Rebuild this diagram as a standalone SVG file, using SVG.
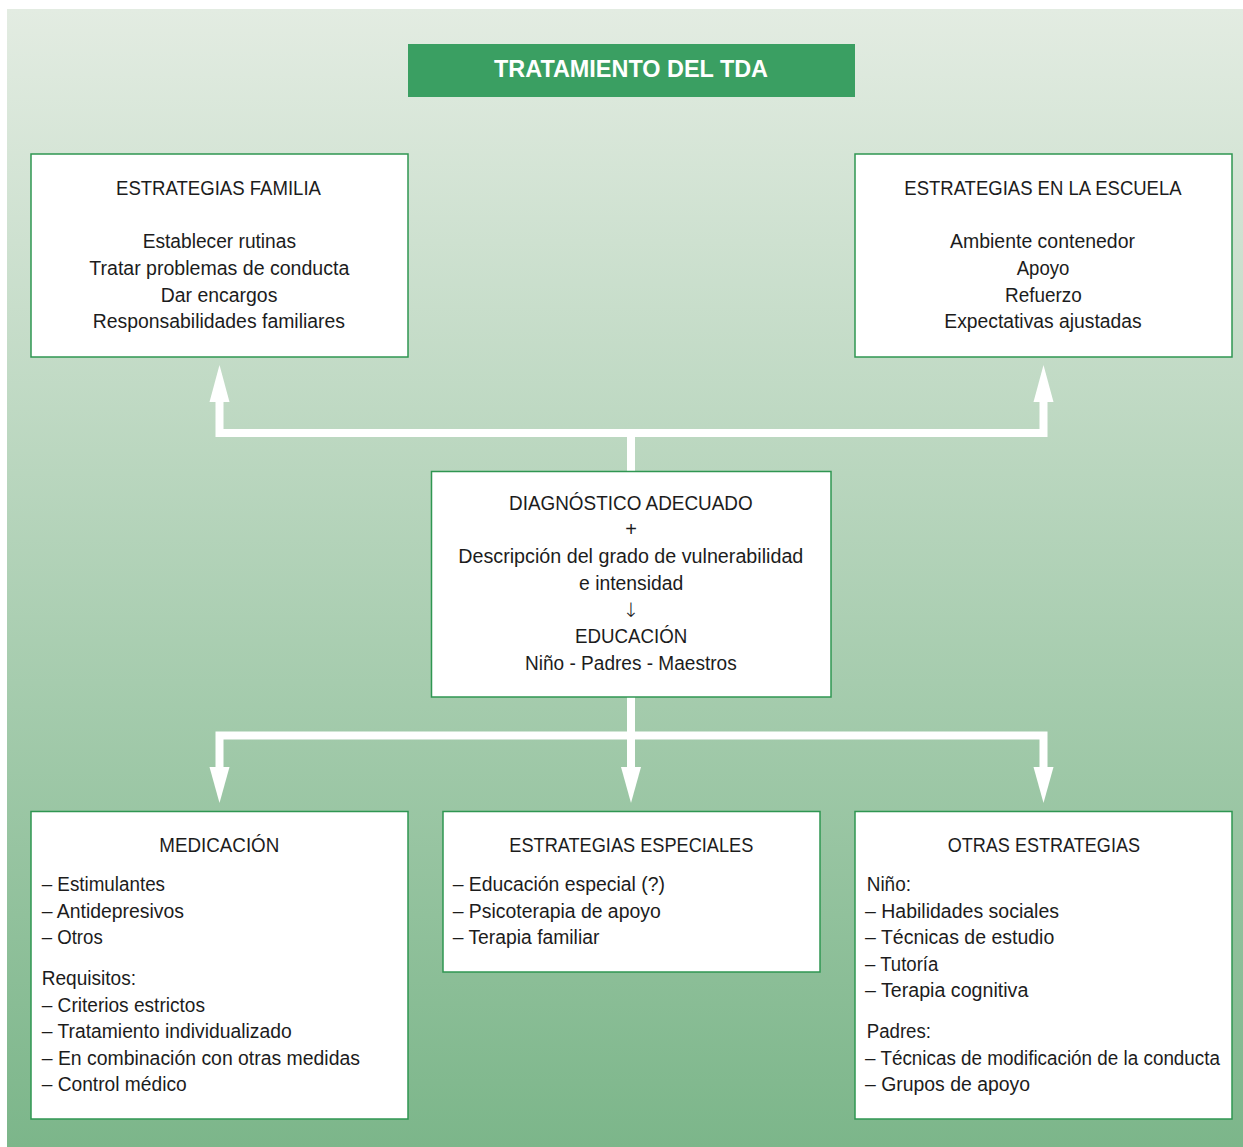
<svg xmlns="http://www.w3.org/2000/svg" width="1243" height="1147" viewBox="0 0 1243 1147">
<defs>
<linearGradient id="bg" x1="0" y1="9" x2="0" y2="1147" gradientUnits="userSpaceOnUse">
<stop offset="0" stop-color="#e3ece2"/>
<stop offset="1" stop-color="#7cb68a"/>
</linearGradient>
<style>
.box{fill:#ffffff;stroke:#2f9652;stroke-width:1.5}
.t{font-family:"Liberation Sans",Arial,sans-serif;font-size:20px;fill:#1c1c1c}
.arr{font-family:"DejaVu Sans","Liberation Sans",sans-serif;font-size:20px;font-weight:200;fill:#1c1c1c}
.conn{fill:none;stroke:#ffffff;stroke-width:8;stroke-linejoin:miter}
.ah{fill:#ffffff}
.title{font-family:"Liberation Sans",Arial,sans-serif;font-size:24px;font-weight:bold;fill:#ffffff}
</style>
</defs>
<rect x="0" y="0" width="1243" height="1147" fill="#ffffff"/>
<rect x="7" y="9" width="1236" height="1138" fill="url(#bg)"/>

<g id="title">
<rect x="408" y="44" width="447" height="53" fill="#3a9f62"/>
<text class="title" x="494" y="77" textLength="274" lengthAdjust="spacingAndGlyphs">TRATAMIENTO DEL TDA</text>
</g>

<g id="connectors">
<path class="conn" d="M631,471 V433"/>
<path class="conn" d="M219.5,400 V433 H1043.5 V400"/>
<polygon class="ah" points="219.5,365 229.5,402 209.5,402"/>
<polygon class="ah" points="1043.5,365 1053.5,402 1033.5,402"/>
<path class="conn" d="M631,697 V769"/>
<path class="conn" d="M219.5,769 V735.5 H1043.5 V769"/>
<polygon class="ah" points="209.5,767 229.5,767 219.5,803"/>
<polygon class="ah" points="621,767 641,767 631,803"/>
<polygon class="ah" points="1033.5,767 1053.5,767 1043.5,803"/>
</g>

<g id="familia">
<rect class="box" x="31" y="154" width="377" height="203"/>
<text class="t" x="116" y="195" textLength="205" lengthAdjust="spacingAndGlyphs">ESTRATEGIAS FAMILIA</text>
<text class="t" x="142.7" y="248" textLength="153.3" lengthAdjust="spacingAndGlyphs">Establecer rutinas</text>
<text class="t" x="89.3" y="275" textLength="260" lengthAdjust="spacingAndGlyphs">Tratar problemas de conducta</text>
<text class="t" x="160.7" y="301.5" textLength="116.7" lengthAdjust="spacingAndGlyphs">Dar encargos</text>
<text class="t" x="92.7" y="328" textLength="252.3" lengthAdjust="spacingAndGlyphs">Responsabilidades familiares</text>
</g>

<g id="escuela">
<rect class="box" x="855" y="154" width="377" height="203"/>
<text class="t" x="904.3" y="195" textLength="277.3" lengthAdjust="spacingAndGlyphs">ESTRATEGIAS EN LA ESCUELA</text>
<text class="t" x="950" y="248" textLength="185" lengthAdjust="spacingAndGlyphs">Ambiente contenedor</text>
<text class="t" x="1016.7" y="275" textLength="52.7" lengthAdjust="spacingAndGlyphs">Apoyo</text>
<text class="t" x="1005" y="301.5" textLength="76.7" lengthAdjust="spacingAndGlyphs">Refuerzo</text>
<text class="t" x="944.3" y="328" textLength="197.3" lengthAdjust="spacingAndGlyphs">Expectativas ajustadas</text>
</g>

<g id="diagnostico">
<rect class="box" x="431.5" y="471.5" width="399.5" height="225.5"/>
<text class="t" x="509" y="509.5" textLength="243.7" lengthAdjust="spacingAndGlyphs">DIAGNÓSTICO ADECUADO</text>
<text class="t" x="631" y="536" text-anchor="middle">+</text>
<text class="t" x="458.3" y="563" textLength="345" lengthAdjust="spacingAndGlyphs">Descripción del grado de vulnerabilidad</text>
<text class="t" x="579" y="589.5" textLength="104.3" lengthAdjust="spacingAndGlyphs">e intensidad</text>
<text class="arr" x="631" y="617" text-anchor="middle">↓</text>
<text class="t" x="575" y="643" textLength="112.3" lengthAdjust="spacingAndGlyphs">EDUCACIÓN</text>
<text class="t" x="525" y="669.5" textLength="211.7" lengthAdjust="spacingAndGlyphs">Niño - Padres - Maestros</text>
</g>

<g id="medicacion">
<rect class="box" x="31" y="811.5" width="377" height="307.5"/>
<text class="t" x="159.3" y="852" textLength="120" lengthAdjust="spacingAndGlyphs">MEDICACIÓN</text>
<text class="t" x="41.7" y="891" textLength="123.3" lengthAdjust="spacingAndGlyphs">– Estimulantes</text>
<text class="t" x="41.7" y="917.5" textLength="142.3" lengthAdjust="spacingAndGlyphs">– Antidepresivos</text>
<text class="t" x="41.7" y="944" textLength="61" lengthAdjust="spacingAndGlyphs">– Otros</text>
<text class="t" x="41.7" y="985" textLength="94.3" lengthAdjust="spacingAndGlyphs">Requisitos:</text>
<text class="t" x="41.7" y="1011.5" textLength="163.3" lengthAdjust="spacingAndGlyphs">– Criterios estrictos</text>
<text class="t" x="41.7" y="1038" textLength="250" lengthAdjust="spacingAndGlyphs">– Tratamiento individualizado</text>
<text class="t" x="41.7" y="1064.5" textLength="318.3" lengthAdjust="spacingAndGlyphs">– En combinación con otras medidas</text>
<text class="t" x="41.7" y="1091" textLength="145" lengthAdjust="spacingAndGlyphs">– Control médico</text>
</g>

<g id="especiales">
<rect class="box" x="443" y="811.5" width="377" height="160.5"/>
<text class="t" x="509.3" y="852" textLength="244" lengthAdjust="spacingAndGlyphs">ESTRATEGIAS ESPECIALES</text>
<text class="t" x="452.7" y="891" textLength="212.3" lengthAdjust="spacingAndGlyphs">– Educación especial (?)</text>
<text class="t" x="452.7" y="917.5" textLength="208" lengthAdjust="spacingAndGlyphs">– Psicoterapia de apoyo</text>
<text class="t" x="452.7" y="944" textLength="146.7" lengthAdjust="spacingAndGlyphs">– Terapia familiar</text>
</g>

<g id="otras">
<rect class="box" x="855" y="811.5" width="377" height="307.5"/>
<text class="t" x="947.7" y="852" textLength="192.3" lengthAdjust="spacingAndGlyphs">OTRAS ESTRATEGIAS</text>
<text class="t" x="866.7" y="891" textLength="44.3" lengthAdjust="spacingAndGlyphs">Niño:</text>
<text class="t" x="865" y="917.5" textLength="194" lengthAdjust="spacingAndGlyphs">– Habilidades sociales</text>
<text class="t" x="865" y="944" textLength="189.3" lengthAdjust="spacingAndGlyphs">– Técnicas de estudio</text>
<text class="t" x="865" y="970.5" textLength="73.3" lengthAdjust="spacingAndGlyphs">– Tutoría</text>
<text class="t" x="865" y="997" textLength="163.3" lengthAdjust="spacingAndGlyphs">– Terapia cognitiva</text>
<text class="t" x="866.7" y="1038" textLength="64.3" lengthAdjust="spacingAndGlyphs">Padres:</text>
<text class="t" x="865" y="1064.5" textLength="355" lengthAdjust="spacingAndGlyphs">– Técnicas de modificación de la conducta</text>
<text class="t" x="865" y="1091" textLength="165" lengthAdjust="spacingAndGlyphs">– Grupos de apoyo</text>
</g>
</svg>
